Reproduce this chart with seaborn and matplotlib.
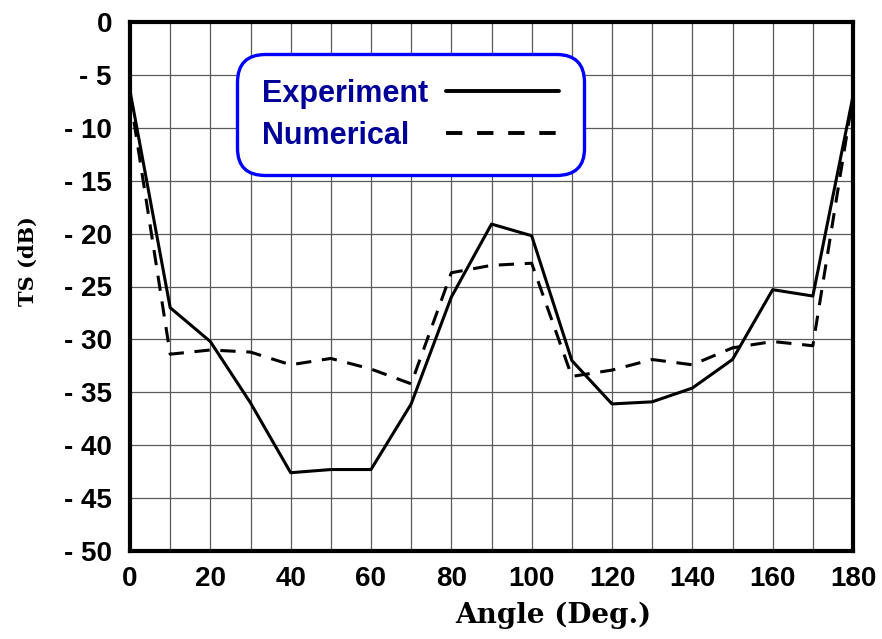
import matplotlib
matplotlib.use("Agg")
import matplotlib.pyplot as plt
import seaborn as sns
import pandas as pd

angles = [0, 10, 20, 30, 40, 50, 60, 70, 80, 90, 100, 110, 120, 130, 140, 150, 160, 170, 180]
experiment = [-6.5, -27.0, -30.2, -36.0, -42.6, -42.3, -42.3, -36.1, -26.0, -19.1, -20.2, -32.0, -36.1, -35.9, -34.6, -31.9, -25.3, -25.9, -7.0]
numerical = [-7.0, -31.4, -31.0, -31.2, -32.4, -31.8, -32.8, -34.2, -23.7, -23.0, -22.8, -33.5, -32.9, -31.9, -32.4, -30.8, -30.2, -30.6, -7.0]
y_ticks = [0, -5, -10, -15, -20, -25, -30, -35, -40, -45, -50]
y_tick_labels = ["0", "- 5", "- 10", "- 15", "- 20", "- 25", "- 30", "- 35", "- 40", "- 45", "- 50"]
x_ticks = [0, 20, 40, 60, 80, 100, 120, 140, 160, 180]

sns.set_style("white")
plt.rcParams['font.family'] = ['Liberation Sans', 'DejaVu Sans']
plt.rcParams['text.color'] = 'black'
plt.rcParams['axes.labelcolor'] = 'black'
plt.rcParams['xtick.color'] = 'black'
plt.rcParams['ytick.color'] = 'black'

df_exp = pd.DataFrame({"Angle": angles, "TS": experiment})
df_num = pd.DataFrame({"Angle": angles, "TS": numerical})

fig = plt.figure(figsize=(8.82, 6.39), dpi=100)
ax = fig.add_axes([130/882, 1-551/639, 723/882, 529/639])

sns.lineplot(data=df_exp, x="Angle", y="TS", ax=ax, color="black", lw=2.2, label="Experiment")
sns.lineplot(data=df_num, x="Angle", y="TS", ax=ax, color="black", lw=2.2, label="Numerical",
             dashes=False)
ax.lines[1].set_dashes([5, 3.5])

ax.set_xlim(0, 180)
ax.set_ylim(-50, 0)
ax.set_xticks(range(0, 181, 10))
ax.set_xticklabels([str(v) if v in x_ticks else "" for v in range(0, 181, 10)],
                   fontsize=20, fontweight="bold", color="black")
ax.set_yticks(y_ticks)
ax.set_yticklabels(y_tick_labels, fontsize=20, fontweight="bold", color="black")
ax.grid(True, color="#5a5a5a", lw=0.9)
ax.tick_params(axis="x", length=0, pad=11, labelcolor="black")
ax.tick_params(axis="y", length=0, pad=13, labelcolor="black")
for s in ax.spines.values():
    s.set_visible(True)
    s.set_color("black")
    s.set_linewidth(3)

ax.set_xlabel("Angle (Deg.)", fontsize=20, fontweight="bold", family="DejaVu Serif", color="black")
ax.xaxis.set_label_coords((553-130)/723, (551-615)/529)
ax.xaxis.label.set_va("center")
ax.set_ylabel("TS (dB)", fontsize=15, fontweight="bold", family="DejaVu Serif", color="black")
ax.yaxis.set_label_coords((28-130)/723, (551-261)/529)
ax.yaxis.label.set_va("center")

leg = ax.legend(loc="upper left", bbox_to_anchor=(0.142, 0.948), markerfirst=False,
                handlelength=3.7, handletextpad=0.6, labelspacing=0.4, borderpad=0.45,
                prop={"family": "Liberation Sans", "weight": "bold", "size": 22},
                frameon=True, fancybox=True, framealpha=1, edgecolor="#0000ff", facecolor="white")
leg.get_frame().set_linewidth(2.4)
leg.get_frame().set_boxstyle("round", pad=0.35, rounding_size=0.9)
for t in leg.get_texts():
    t.set_color("#000099")
for h in leg.get_lines():
    h.set_linewidth(2.8)
leg.get_lines()[1].set_dashes([4.2, 3.8])

# left-align legend labels while keeping the handles aligned on the right
fig.canvas.draw()
renderer = fig.canvas.get_renderer()
widths = [t.get_window_extent(renderer).width * 72 / fig.dpi for t in leg.get_texts()]
maxw = max(widths)
col = leg._legend_handle_box.get_children()[0]
col.align = "left"
for item, w in zip(col.get_children(), widths):
    item.sep = item.sep + (maxw - w)

fig.savefig("out.png", dpi=100)
